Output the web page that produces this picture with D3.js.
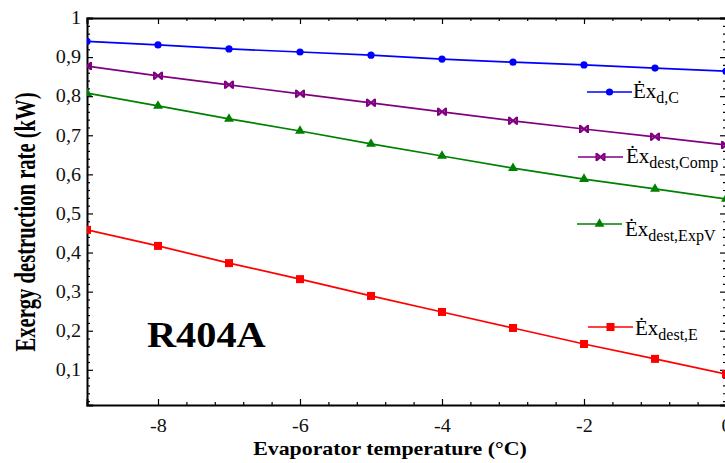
<!DOCTYPE html>
<html><head><meta charset="utf-8">
<script src="https://cdn.jsdelivr.net/npm/d3@7/dist/d3.min.js"></script>
<style>
html,body{margin:0;padding:0;background:#fff;}
svg text{font-family:"Liberation Serif","Times New Roman",Times,serif !important;}
</style></head>
<body><svg id="c" width="725" height="463"></svg>
<script>
const temps = [-9,-8,-7,-6,-5,-4,-3,-2,-1,0];
const exdC = [0.940,0.931,0.921,0.913,0.905,0.895,0.887,0.880,0.872,0.864];
const exComp = [0.877,0.852,0.829,0.806,0.783,0.760,0.737,0.716,0.696,0.675];
const exExpV = [0.808,0.775,0.742,0.711,0.678,0.647,0.616,0.588,0.563,0.537];
const exE = [0.458,0.417,0.373,0.332,0.289,0.248,0.207,0.166,0.128,0.089];
const xTicks = [-8,-6,-4,-2,0];
const xMinor = [-7.6,-7.2,-6.8,-6.4,-5.6,-5.2,-4.8,-4.4,-3.6,-3.2,-2.8,-2.4,-1.6,-1.2,-0.8,-0.4];
const yTicks = [0.1,0.2,0.3,0.4,0.5,0.6,0.7,0.8,0.9,1.0];
const yMinor = d3.range(1,50).map(i=>+(i*0.02).toFixed(2)).filter(v=>Math.abs(v*10-Math.round(v*10))>1e-6 && v>0.01);

const series = [
  {name:"d,C", vals:exdC, color:"#0000ff", sym:"circle", lx1:587, lx2:632, ly:92, tx:633, ty:98},
  {name:"dest,Comp", vals:exComp, color:"#800080", sym:"bowtie", lx1:578, lx2:623, ly:157, tx:626, ty:163},
  {name:"dest,ExpV", vals:exExpV, color:"#008000", sym:"triangle", lx1:577, lx2:622, ly:224, tx:625, ty:236},
  {name:"dest,E", vals:exE, color:"#ff0000", sym:"square", lx1:588, lx2:633, ly:327, tx:635, ty:335}
];

const svg = d3.select("#c");
const L=87, R=726, T=18, B=405;
const x = d3.scaleLinear().domain([-9,0]).range([L,R]);
const y = d3.scaleLinear().domain([0.01,1]).range([B,T]);

svg.append("defs").append("clipPath").attr("id","clip").append("rect")
  .attr("x",L).attr("y",T).attr("width",R-L).attr("height",B-T);

function stretch(sel,f){ sel.each(function(){ const l=this.getComputedTextLength(); this.setAttribute("textLength",l*f); this.setAttribute("lengthAdjust","spacingAndGlyphs"); }); }

const fmt = v => (Math.abs(v-1)<1e-9 ? "1" : d3.format(".1f")(v).replace(".",","));

const axes = [
  {g:svg.append("g").attr("transform",`translate(0,${B})`), maj:d3.axisBottom(x).tickValues(xTicks).tickSize(-6).tickPadding(14).tickFormat(d=>String(d)), min:d3.axisBottom(x).tickValues(xMinor).tickSize(-3).tickFormat("")},
  {g:svg.append("g").attr("transform",`translate(0,${T})`), maj:d3.axisTop(x).tickValues(xTicks).tickSize(-6).tickFormat(""), min:d3.axisTop(x).tickValues(xMinor).tickSize(-3).tickFormat("")},
  {g:svg.append("g").attr("transform",`translate(${L},0)`), maj:d3.axisLeft(y).tickValues(yTicks).tickSize(-6).tickPadding(6).tickFormat(fmt), min:d3.axisLeft(y).tickValues(yMinor).tickSize(-3).tickFormat("")},
  {g:svg.append("g").attr("transform",`translate(${R},0)`), maj:d3.axisRight(y).tickValues(yTicks).tickSize(-6).tickFormat(""), min:d3.axisRight(y).tickValues(yMinor).tickSize(-3).tickFormat("")}
];
axes.forEach(a=>{
  const gmin = a.g.append("g").call(a.min);
  const gmaj = a.g.append("g").call(a.maj);
  [gmin,gmaj].forEach(g=>{
    g.attr("font-family",null);
    g.select(".domain").attr("stroke","#000").attr("stroke-width",2);
    g.selectAll(".tick line").attr("stroke","#000").attr("stroke-width",1.2);
    g.selectAll("text").attr("font-size",18).attr("fill","#111");
  });
  gmin.select(".domain").remove();
});
stretch(axes[0].g.selectAll("text"),1.12);
stretch(axes[2].g.selectAll("text"),1.12);

const plot = svg.append("g").attr("clip-path","url(#clip)");
const line = d3.line().x((d,i)=>x(temps[i])).y(d=>y(d));
function marker(g, sym, color, cx, cy){
  if(sym==="circle") g.append("circle").attr("cx",cx).attr("cy",cy).attr("r",3.6).attr("fill",color);
  else if(sym==="square") g.append("rect").attr("x",cx-4).attr("y",cy-4).attr("width",8).attr("height",8).attr("fill",color);
  else if(sym==="triangle") g.append("path").attr("d",d3.symbol(d3.symbolTriangle,42)()).attr("transform",`translate(${cx},${cy})`).attr("fill",color);
  else g.append("path").attr("d","M-4,-3.5L4,3.5M-4,3.5L4,-3.5M-4,-4V4M4,-4V4").attr("transform",`translate(${cx},${cy})`).attr("stroke",color).attr("stroke-width",2).attr("fill","none");
}
series.forEach(s=>{
  plot.append("path").datum(s.vals).attr("d",line).attr("fill","none").attr("stroke",s.color).attr("stroke-width",1.7);
  s.vals.forEach((v,i)=>marker(plot,s.sym,s.color,x(temps[i]),y(v)));
  svg.append("line").attr("x1",s.lx1).attr("x2",s.lx2).attr("y1",s.ly).attr("y2",s.ly).attr("stroke",s.color).attr("stroke-width",1.7);
  marker(svg,s.sym,s.color,(s.lx1+s.lx2)/2,s.ly);
  const t = svg.append("text").attr("x",s.tx).attr("y",s.ty).attr("font-size",21).attr("fill","#000");
  t.append("tspan").text("Ėx");
  t.append("tspan").attr("font-size",16).attr("dy",5).text(s.name);
});

const rl = svg.append("text").attr("x",147).attr("y",347).attr("font-size",36).attr("font-weight","bold").attr("fill","#000").text("R404A");
stretch(rl,1.12);

const xt = svg.append("text").attr("x",390).attr("y",455).attr("text-anchor","middle").attr("font-size",19).attr("font-weight","bold").attr("fill","#000").text("Evaporator temperature (°C)");
stretch(xt,1.15);
svg.append("text").attr("transform","translate(35,222) scale(1.3,1) rotate(-90)").attr("text-anchor","middle")
  .attr("font-size",22).attr("font-weight","bold").attr("fill","#000")
  .attr("textLength",259).attr("lengthAdjust","spacingAndGlyphs").text("Exergy destruction rate (kW)");
</script></body></html>
